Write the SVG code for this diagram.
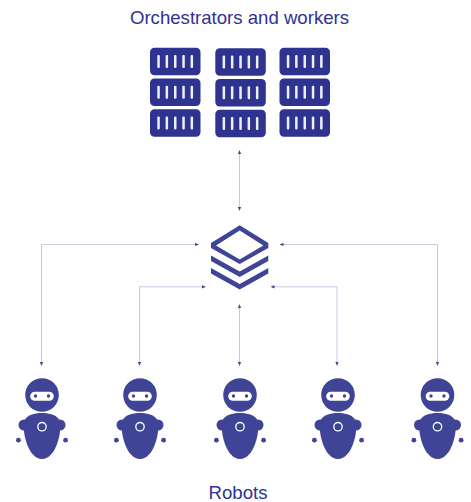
<svg xmlns="http://www.w3.org/2000/svg" width="471" height="502" viewBox="0 0 471 502">
<style>
.t{font-family:"Liberation Sans",Arial,sans-serif;font-size:18.600px;fill:#2f3391;text-anchor:middle}
.c{fill:none;stroke:#c9c8e3;stroke-width:1;marker-start:url(#ds);marker-end:url(#d)}
.s{fill:#2f3390}
.b{fill:#fff;opacity:.92}
.r{fill:#3f4496}
</style>
<defs>
<marker id="d" markerUnits="userSpaceOnUse" markerWidth="4" markerHeight="4" refX="2" refY="2" orient="auto"><path d="M0 .4L4 2L0 3.600Z" fill="#3f4496"/></marker>
<marker id="ds" markerUnits="userSpaceOnUse" markerWidth="4" markerHeight="4" refX="2" refY="2" orient="auto"><path d="M4 .4L0 2L4 3.600Z" fill="#3f4496"/></marker>
<g id="srv"><rect class="s" x="0" y="0" width="50.500" height="27.500" rx="4.500"/><rect class="b" x="7.300" y="7.200" width="2.500" height="13" rx="1"/><rect class="b" x="15.600" y="7.200" width="2.500" height="13" rx="1"/><rect class="b" x="24" y="7.200" width="2.500" height="13" rx="1"/><rect class="b" x="32.300" y="7.200" width="2.500" height="13" rx="1"/><rect class="b" x="40.600" y="7.200" width="2.500" height="13" rx="1"/></g>
<g id="rob">
<circle class="r" cx="0" cy="395" r="16.800"/>
<rect x="-11.800" y="391.700" width="23.600" height="9" rx="4.500" fill="#fff"/>
<circle class="r" cx="-6.500" cy="396" r="1.700"/><circle class="r" cx="6.500" cy="396" r="1.700"/>
<circle class="r" cx="-18" cy="425" r="5.500"/><circle class="r" cx="18" cy="425" r="5.500"/>
<path class="r" d="M0 413C8 413 15 415 18 421C20 432 14 459 0 459C-14 459 -20 432 -18 421C-15 415 -8 413 0 413Z"/>
<circle cx="0" cy="426.700" r="4.200" fill="none" stroke="#fff" stroke-width="1.300"/>
<circle class="r" cx="-23.600" cy="440.200" r="2.400"/><circle class="r" cx="23.600" cy="440.200" r="2.400"/>
</g>
</defs>
<g id="connectors">
<path class="c" d="M239.500 152V209"/>
<path class="c" d="M197 244.500H41.500V364"/>
<path class="c" d="M281.500 244.500H437.500V364"/>
<path class="c" d="M204 286.800H139.500V364"/>
<path class="c" d="M272.500 286.800H337V364"/>
<path class="c" d="M239.500 306V364"/>
</g>
<g id="title"><text class="t" x="239.500" y="24">Orchestrators and workers</text></g>
<g id="server-1"><use href="#srv" x="150" y="47.700"/><use href="#srv" x="150" y="78.500"/><use href="#srv" x="150" y="109.300"/></g>
<g id="server-2"><use href="#srv" x="215.300" y="48.200"/><use href="#srv" x="215.300" y="79"/><use href="#srv" x="215.300" y="109.800"/></g>
<g id="server-3"><use href="#srv" x="279.500" y="47.700"/><use href="#srv" x="279.500" y="78.500"/><use href="#srv" x="279.500" y="109.300"/></g>
<g id="stack" fill="#3f4496">
<path fill-rule="evenodd" d="M239.700 225.300L268.300 243V248L239.700 264L211 248V243ZM239.700 230.500L216 245.500L239.700 259.500L263.300 245.500Z"/>
<path d="M211 255.500L239.700 271.500L268.300 255.500V261L239.700 277L211 261Z"/>
<path d="M211 268L239.700 284L268.300 268V273.500L239.700 289.500L211 273.500Z"/>
</g>
<g id="robot-1"><use href="#rob" x="42"/></g>
<g id="robot-2"><use href="#rob" x="140"/></g>
<g id="robot-3"><use href="#rob" x="240"/></g>
<g id="robot-4"><use href="#rob" x="338"/></g>
<g id="robot-5"><use href="#rob" x="437.500"/></g>
<g id="label-robots"><text class="t" x="238" y="499">Robots</text></g>
</svg>
